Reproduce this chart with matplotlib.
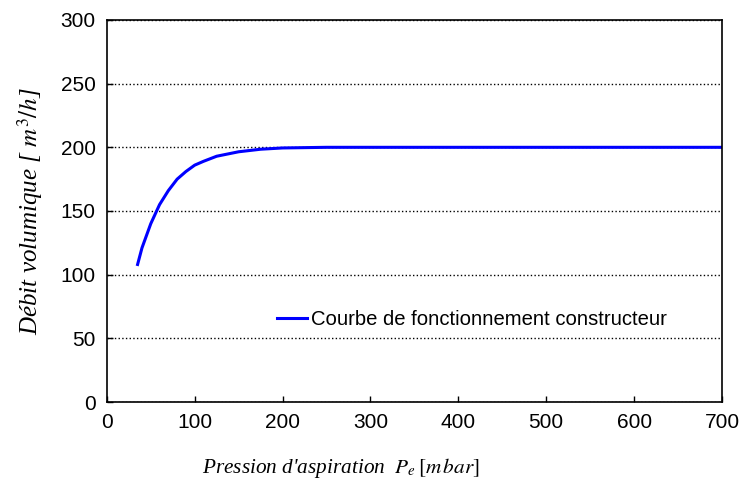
import matplotlib
matplotlib.use("Agg")
import matplotlib.pyplot as plt

# courbe constructeur
pression = [35, 40, 50, 60, 70, 80, 90, 100, 110, 125, 150, 175, 200, 250, 400, 700]
debit = [108, 121, 140, 155, 166, 175, 181, 186, 189, 193, 196.5, 198.5, 199.5, 200, 200, 200]

x_ticks = [0, 100, 200, 300, 400, 500, 600, 700]
y_ticks = [0, 50, 100, 150, 200, 250, 300]

plt.rcParams['font.family'] = ['Liberation Sans', 'DejaVu Sans']
plt.rcParams['mathtext.fontset'] = 'stix'

fig = plt.figure(figsize=(7.47, 4.87), dpi=100)
ax = fig.add_axes([0.143, 0.1745, 0.8235, 0.7845])

ax.plot(pression, debit, color='#0000ff', lw=2.2,
        label="Courbe de fonctionnement constructeur")

ax.set_xlim(0, 700)
ax.set_ylim(0, 300)
ax.set_xticks(x_ticks)
ax.set_yticks(y_ticks)
ax.tick_params(direction='in', length=4, labelsize=15, width=1, pad=8)
ax.yaxis.grid(True, linestyle=':', color='black', lw=1)
for s in ax.spines.values():
    s.set_linewidth(1.2)

ax.set_xlabel(r"Pression d'aspiration  $P_e\,[m\,bar]$", family='Liberation Serif',
              style='italic', fontsize=15.3)
ax.xaxis.set_label_coords(0.38, -0.14)
ax.set_ylabel(r"Débit volumique [ $m^3/h$]", family='Liberation Serif',
              style='italic', fontsize=18)
ax.yaxis.set_label_coords(-0.10, 0.5)

ax.legend(loc='center left', bbox_to_anchor=(0.26, 0.215), frameon=False,
          fontsize=14.6, handlelength=1.5, handletextpad=0.2, borderpad=0)

fig.savefig("out.png", dpi=100)
